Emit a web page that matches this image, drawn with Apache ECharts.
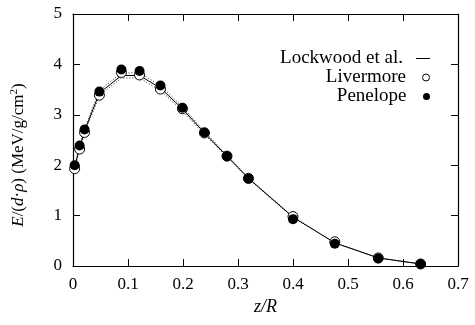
<!DOCTYPE html>
<html>
<head>
<meta charset="utf-8">
<script src="https://cdn.jsdelivr.net/npm/echarts@6/dist/echarts.min.js"></script>
<style>
  html, body { margin: 0; padding: 0; background: #fff; }
  #chart { width: 475px; height: 325px; }
</style>
</head>
<body>
<div id="chart"></div>
<script>
// z/R positions of the sample points
const zR = [0.003, 0.012, 0.021, 0.048, 0.088, 0.121, 0.159, 0.199, 0.239, 0.28, 0.319, 0.4, 0.476, 0.555, 0.632];
// Lockwood et al. (solid) with its dotted band
const lockwood = [1.96, 2.35, 2.68, 3.43, 3.78, 3.78, 3.53, 3.12, 2.64, 2.18, 1.74, 0.97, 0.46, 0.16, 0.04];
const lockUpper = [2.0, 2.39, 2.72, 3.48, 3.83, 3.83, 3.58, 3.16, 2.67, 2.2, 1.75, 0.98, 0.46, 0.16, 0.04];
const lockLower = [1.92, 2.31, 2.64, 3.38, 3.73, 3.73, 3.48, 3.08, 2.61, 2.16, 1.73, 0.96, 0.46, 0.16, 0.04];
// Livermore (open circles) and Penelope (filled circles)
const livermore = [1.93, 2.32, 2.65, 3.39, 3.84, 3.79, 3.51, 3.12, 2.64, 2.18, 1.74, 0.98, 0.48, 0.16, 0.04];
const penelope = [2.0, 2.39, 2.71, 3.46, 3.9, 3.87, 3.58, 3.14, 2.65, 2.18, 1.73, 0.93, 0.44, 0.15, 0.04];

const xTicks = [0, 0.1, 0.2, 0.3, 0.4, 0.5, 0.6, 0.7];
const yTicks = [0, 1, 2, 3, 4, 5];

const FONT = "Liberation Serif";
const pair = (ys) => zR.map((x, i) => [x, ys[i]]);

const chart = echarts.init(document.getElementById("chart"));

const baseX = {
   type: "value",
   min: xTicks[0],
   max: xTicks[xTicks.length - 1],
   interval: 0.1,
   axisLine: { show: true, onZero: false, lineStyle: { color: "#000", width: 1.2 } },
   axisTick: { show: true, inside: true, length: 7, lineStyle: { color: "#000", width: 1 } },
   splitLine: { show: false },
};
const baseY = {
   type: "value",
   min: yTicks[0],
   max: yTicks[yTicks.length - 1],
   interval: 1,
   axisLine: { show: true, onZero: false, lineStyle: { color: "#000", width: 1.2 } },
   axisTick: { show: true, inside: true, length: 7, lineStyle: { color: "#000", width: 1 } },
   splitLine: { show: false },
};

const legendRow = (item, top) => ({
   data: [item],
   right: 45,
   top: top,
   align: "right",
   itemWidth: 14,
   itemHeight: 7,
   padding: 0,
   selectedMode: false,
   textStyle: { fontFamily: FONT, fontSize: 19, color: "#000", padding: [0, 8, 0, 0] },
});

chart.setOption({
   animation: false,
   textStyle: { fontFamily: FONT },
   grid: { left: 73, right: 17, top: 14, bottom: 59 },
   legend: [
      legendRow({ name: "Lockwood et al.", icon: "path://M0,0L14,0L14,1L0,1Z", itemStyle: { color: "#000" } }, 49),
      legendRow({ name: "Livermore", icon: "circle", itemStyle: { color: "#fff", borderColor: "#000", borderWidth: 1 } }, 68),
      legendRow({ name: "Penelope", icon: "circle", itemStyle: { color: "#000" } }, 87),
   ],
   xAxis: [
      {
         ...baseX,
         position: "bottom",
         name: "z/R",
         nameLocation: "middle",
         nameGap: 30,
         nameTextStyle: { fontFamily: FONT, fontSize: 18, fontStyle: "italic", color: "#000" },
         axisLabel: {
            fontFamily: FONT,
            fontSize: 17,
            color: "#000",
            margin: 10,
            formatter: (v) => (v === 0 ? "0" : v.toFixed(1)),
         },
      },
      { ...baseX, position: "top", axisLabel: { show: false } },
   ],
   yAxis: [
      {
         ...baseY,
         position: "left",
         name: "{i|E}/({i|d}·{i|ρ}) (MeV/g/cm{s|2})",
         nameLocation: "middle",
         nameGap: 45,
         nameRotate: 90,
         nameTextStyle: {
            fontFamily: FONT,
            fontSize: 17,
            color: "#000",
            padding: [0, 30, 0, 0],
            rich: {
               i: { fontFamily: FONT, fontSize: 17, fontStyle: "italic", color: "#000" },
               s: { fontFamily: FONT, fontSize: 11, color: "#000", verticalAlign: "top", padding: [0, 0, 8, 0] },
            },
         },
         axisLabel: { fontFamily: FONT, fontSize: 17, color: "#000", margin: 11 },
      },
      { ...baseY, position: "right", axisLabel: { show: false } },
   ],
   series: [
      {
         name: "upper",
         type: "line",
         data: pair(lockUpper),
         symbol: "none",
         lineStyle: { color: "#222", width: 1, type: [1, 2] },
         z: 1,
      },
      {
         name: "lower",
         type: "line",
         data: pair(lockLower),
         symbol: "none",
         lineStyle: { color: "#222", width: 1, type: [1, 2] },
         z: 1,
      },
      {
         name: "Lockwood et al.",
         type: "line",
         data: pair(lockwood),
         symbol: "none",
         lineStyle: { color: "#000", width: 1 },
         itemStyle: { color: "#000" },
         z: 2,
      },
      {
         name: "Livermore",
         type: "scatter",
         data: pair(livermore),
         symbol: "circle",
         symbolSize: 10,
         itemStyle: { color: "#fff", borderColor: "#000", borderWidth: 1, opacity: 1 },
         z: 3,
      },
      {
         name: "Penelope",
         type: "scatter",
         data: pair(penelope),
         symbol: "circle",
         symbolSize: 10,
         itemStyle: { color: "#000", opacity: 1 },
         z: 4,
      },
   ],
});
</script>
</body>
</html>
